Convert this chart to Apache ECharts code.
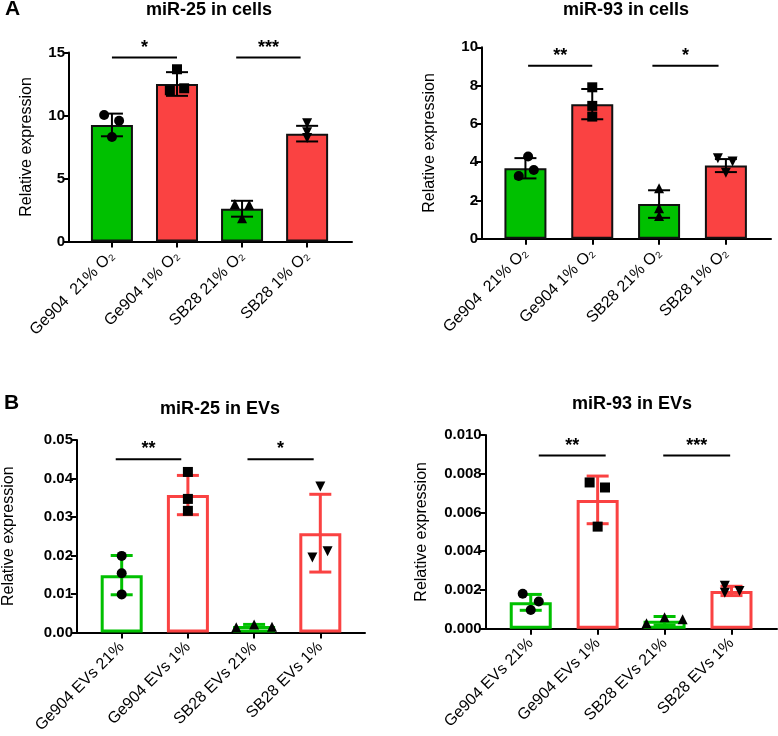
<!DOCTYPE html>
<html>
<head>
<meta charset="utf-8">
<script src="https://cdn.jsdelivr.net/npm/echarts@6/dist/echarts.min.js"></script>
<style>
  html, body { margin: 0; padding: 0; background: #fff; }
  #chart { width: 778px; height: 736px; }
</style>
</head>
<body>
<div id="chart"></div>
<script>
// categories
var catsCells = ['Ge904  21% O\u2082', 'Ge904 1% O\u2082', 'SB28 21% O\u2082', 'SB28 1% O\u2082'];
var catsEVs = ['Ge904 EVs 21%', 'Ge904 EVs 1%', 'SB28 EVs 21%', 'SB28 EVs 1%'];

// miR-25 in cells
var mir25CellsMean = [9.25, 12.5, 2.6, 8.56];
var mir25CellsSd = [0.9, 0.94, 0.63, 0.62];
var mir25CellsPts = [[10.04, 9.59, 8.29], [13.67, 12.0, 12.16], [2.98, 2.92, 1.84], [9.38, 8.67, 8.21]];
var mir25CellsJit = [[-0.12, 0.11, 0], [0, -0.11, 0.11], [-0.11, 0.11, 0], [0, 0, 0]];
var mir25CellsSig = [[0, 1, 14.6, '*'], [1.91, 2.9, 14.6, '***']];

// miR-93 in cells
var mir93CellsMean = [3.68, 7.03, 1.81, 3.82];
var mir93CellsSd = [0.53, 0.79, 0.72, 0.34];
var mir93CellsPts = [[4.29, 3.59, 3.28], [7.91, 6.94, 6.38], [2.63, 1.59, 1.19], [4.2, 4.03, 3.45]];
var mir93CellsJit = [[0.04, 0.125, -0.1], [0, 0, 0], [0, 0, 0], [-0.12, 0.1, 0]];
var mir93CellsSig = [[0.04, 1.0, 9.03, '**'], [1.9, 2.89, 9.03, '*']];

// miR-25 in EVs
var mir25EVsMean = [0.0149, 0.0357, 0.0017, 0.0258];
var mir25EVsSd = [0.0051, 0.0051, 0.0004, 0.0101];
var mir25EVsPts = [[0.0199, 0.0154, 0.0099], [0.0417, 0.0347, 0.0316], [0.00135, 0.0021, 0.0015], [0.0379, 0.0195, 0.0211]];
var mir25EVsJit = [[0, 0, 0], [0, 0, 0], [-0.27, 0, 0.27], [0, -0.12, 0.11]];
var mir25EVsSig = [[-0.09, 0.9, 0.045, '**'], [1.9, 2.9, 0.045, '*']];

// miR-93 in EVs
var mir93EVsMean = [0.00136, 0.00665, 0.00041, 0.00195];
var mir93EVsSd = [0.00041, 0.00123, 0.00022, 0.00024];
var mir93EVsPts = [[0.0018, 0.0014, 0.00097], [0.00755, 0.00729, 0.00527], [0.00028, 0.00059, 0.00049], [0.00222, 0.00186, 0.00195]];
var mir93EVsJit = [[-0.12, 0.12, 0], [-0.12, 0.11, 0], [-0.27, 0, 0.27], [-0.1, -0.1, 0.12]];
var mir93EVsSig = [[0.12, 1.12, 0.00894, '**'], [1.98, 2.98, 0.00894, '***']];

var fontFam = 'Arial, "Liberation Sans", Helvetica, sans-serif';
var green = '#00C000';
var red = '#FA4242';
var groupColors = [green, red, green, red];
var symbols = ['circle', 'rect', 'triangle', 'triangle'];
var symbolRot = [0, 0, 0, 180];

var myChart = echarts.init(document.getElementById('chart'));

var grids = [], xAxes = [], yAxes = [], series = [];

function addPanel(idx, p) {
    grids.push({ left: p.left, right: p.right, top: p.top, bottom: p.bottom, containLabel: false });
    xAxes.push({
        type: 'value', gridIndex: idx, min: p.xmin, max: p.xmax,
        splitLine: { show: false },
        axisLine: { onZero: false, lineStyle: { color: '#000', width: 2 } },
        axisTick: { customValues: [0, 1, 2, 3], length: 6, lineStyle: { color: '#000', width: 2 } },
        axisLabel: {
            customValues: [0, 1, 2, 3], rotate: 45, margin: 12,
            color: '#000', fontSize: 16, fontFamily: fontFam,
            formatter: function (v) { return p.cats[Math.round(v)]; }
        }
    });
    yAxes.push({
        type: 'value', gridIndex: idx, min: 0, max: p.ymax, interval: p.yint,
        name: 'Relative expression', nameLocation: 'middle', nameGap: p.nameGap,
        nameTextStyle: { color: '#000', fontSize: 16, fontFamily: fontFam },
        splitLine: { show: false },
        axisLine: { show: true, onZero: false, lineStyle: { color: '#000', width: 2 } },
        axisTick: { show: true, length: 6, lineStyle: { color: '#000', width: 2 } },
        axisLabel: {
            color: '#000', fontSize: 15, fontWeight: 'bold', fontFamily: fontFam, margin: 4,
            formatter: function (v) { return v.toFixed(p.dec); }
        }
    });

    // bars
    series.push({
        type: 'bar', xAxisIndex: idx, yAxisIndex: idx, barWidth: 42, z: 2,
        data: p.mean.map(function (m, i) {
            return {
                value: [i, m],
                itemStyle: p.hollow
                    ? { color: '#fff', borderColor: groupColors[i], borderWidth: 3 }
                    : { color: groupColors[i], borderColor: '#111', borderWidth: 2 }
            };
        })
    });

    // error bars
    series.push({
        type: 'custom', xAxisIndex: idx, yAxisIndex: idx, z: 3,
        data: p.mean.map(function (m, i) { return [i, m - p.sd[i], m + p.sd[i]]; }),
        renderItem: function (params, api) {
            var i = api.value(0);
            var lo = api.coord([i, api.value(1)]);
            var hi = api.coord([i, api.value(2)]);
            var col = p.hollow ? groupColors[i] : '#000';
            var w = p.hollow ? 3 : 2;
            var cap = 11;
            return {
                type: 'group',
                children: [
                    { type: 'line', shape: { x1: lo[0], y1: lo[1], x2: hi[0], y2: hi[1] }, style: { stroke: col, lineWidth: w } },
                    { type: 'line', shape: { x1: hi[0] - cap, y1: hi[1], x2: hi[0] + cap, y2: hi[1] }, style: { stroke: col, lineWidth: w } },
                    { type: 'line', shape: { x1: lo[0] - cap, y1: lo[1], x2: lo[0] + cap, y2: lo[1] }, style: { stroke: col, lineWidth: w } }
                ]
            };
        }
    });

    // individual points
    var pts = [];
    p.pts.forEach(function (g, i) {
        g.forEach(function (v, j) {
            pts.push({ value: [i + p.jit[i][j], v], symbol: symbols[i], symbolRotate: symbolRot[i] });
        });
    });
    series.push({
        type: 'scatter', xAxisIndex: idx, yAxisIndex: idx, z: 4,
        symbolSize: 10, itemStyle: { color: '#000', opacity: 1 },
        data: pts
    });

    // significance brackets
    series.push({
        type: 'custom', xAxisIndex: idx, yAxisIndex: idx, z: 5,
        data: p.sig.map(function (s) { return [s[0], s[1], s[2]]; }),
        renderItem: function (params, api) {
            var a = api.coord([api.value(0), api.value(2)]);
            var b = api.coord([api.value(1), api.value(2)]);
            return {
                type: 'group',
                children: [
                    { type: 'line', shape: { x1: a[0], y1: a[1], x2: b[0], y2: a[1] }, style: { stroke: '#000', lineWidth: 2 } },
                    {
                        type: 'text',
                        style: {
                            text: p.sig[params.dataIndex][3], x: (a[0] + b[0]) / 2, y: a[1] - 1,
                            textAlign: 'center', textVerticalAlign: 'bottom',
                            font: 'bold 18px ' + fontFam, fill: '#000'
                        }
                    }
                ]
            };
        }
    });
}

addPanel(0, {
    left: 69, right: 426, top: 52.5, bottom: 494.5, xmin: -0.66, xmax: 3.69,
    ymax: 15, yint: 5, dec: 0, nameGap: 34, cats: catsCells, hollow: false,
    mean: mir25CellsMean, sd: mir25CellsSd, pts: mir25CellsPts, jit: mir25CellsJit, sig: mir25CellsSig
});
addPanel(1, {
    left: 482, right: 7, top: 47.3, bottom: 497.3, xmin: -0.65, xmax: 3.675,
    ymax: 10, yint: 2, dec: 0, nameGap: 44, cats: catsCells, hollow: false,
    mean: mir93CellsMean, sd: mir93CellsSd, pts: mir93CellsPts, jit: mir93CellsJit, sig: mir93CellsSig
});
addPanel(2, {
    left: 75, right: 413, top: 440, bottom: 103.5, xmin: -0.675, xmax: 3.675,
    ymax: 0.05, yint: 0.01, dec: 2, nameGap: 60, cats: catsEVs, hollow: true,
    mean: mir25EVsMean, sd: mir25EVsSd, pts: mir25EVsPts, jit: mir25EVsJit, sig: mir25EVsSig
});
addPanel(3, {
    left: 485.7, right: 1, top: 435, bottom: 107.3, xmin: -0.673, xmax: 3.68,
    ymax: 0.01, yint: 0.002, dec: 3, nameGap: 56, cats: catsEVs, hollow: true,
    mean: mir93EVsMean, sd: mir93EVsSd, pts: mir93EVsPts, jit: mir93EVsJit, sig: mir93EVsSig
});

function titleText(txt, x, y, size) {
    return {
        type: 'text', x: x, y: y,
        style: { text: txt, textAlign: 'center', textVerticalAlign: 'middle', font: 'bold ' + size + 'px ' + fontFam, fill: '#000' }
    };
}

var option = {
    animation: false,
    grid: grids,
    xAxis: xAxes,
    yAxis: yAxes,
    series: series,
    graphic: [
        titleText('A', 12.5, 9, 21),
        titleText('B', 11.5, 403.5, 21),
        titleText('miR-25 in cells', 209, 10.5, 18),
        titleText('miR-93 in cells', 626, 10.5, 18),
        titleText('miR-25 in EVs', 220, 409, 18),
        titleText('miR-93 in EVs', 632, 404, 18)
    ]
};

myChart.setOption(option);
</script>
</body>
</html>
